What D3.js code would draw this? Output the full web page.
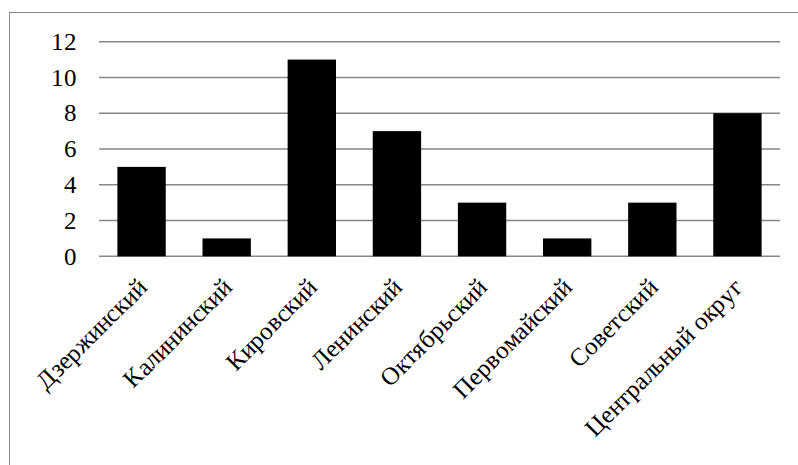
<!DOCTYPE html>
<html><head><meta charset="utf-8">
<script src="https://cdn.jsdelivr.net/npm/d3@7"></script>
<style>
@font-face{font-family:"ChartSerif";src:local("Liberation Serif"),local("LiberationSerif"),local("LiberationSerif-Regular"),local("Times New Roman");}
body{margin:0;background:#fff}
</style>
</head><body>
<script>
const categories = ["Дзержинский","Калининский","Кировский","Ленинский","Октябрьский","Первомайский","Советский","Центральный округ"];
const values = [5,1,11,7,3,1,3,8];
const yTicks = [0,2,4,6,8,10,12];

const W = 798, H = 465;
const FONT = d => "Times New Roman";
const svg = d3.select("body").append("svg").attr("width", W).attr("height", H)
  .style("display","block");
svg.append("rect").attr("x",9.5).attr("y",12.5).attr("width",W).attr("height",H)
  .attr("fill","#fff").attr("stroke","#888").attr("stroke-width",1);

const x0 = 99, x1 = 780, yTop = 41.7, yBot = 256.3;
const x = d3.scaleBand().domain(categories).range([x0,x1]).paddingInner(0.432).paddingOuter(0.216);
const y = d3.scaleLinear().domain([0,12]).range([yBot,yTop]);

svg.append("g").selectAll("line").data(yTicks).join("line")
  .attr("x1",x0).attr("x2",x1).attr("y1",d=>y(d)).attr("y2",d=>y(d))
  .attr("stroke","#868686").attr("stroke-width",1.5);

svg.append("g").selectAll("rect").data(values).join("rect")
  .attr("x",(d,i)=>x(categories[i])).attr("width",x.bandwidth())
  .attr("y",d=>y(d)).attr("height",d=>y(0)-y(d)).attr("fill","#000");

svg.append("g").selectAll("text").data(yTicks).join("text")
  .attr("x",77).attr("y",d=>y(d)).attr("dy","0.33em").attr("text-anchor","end")
  .style("font-family",d=>'ChartSerif, "Times New Roman", "Liberation Serif", serif')
  .style("font-size","25px")
  .text(d=>d);

svg.append("g").selectAll("text").data(categories).join("text")
  .attr("text-anchor","end")
  .attr("transform",d=>`translate(${x(d)+x.bandwidth()/2+6.5},${yBot+33}) rotate(-45)`)
  .style("font-family",d=>'ChartSerif, "Times New Roman", "Liberation Serif", serif')
  .style("font-size","25px")
  .text(d=>d);
</script>
</body></html>
